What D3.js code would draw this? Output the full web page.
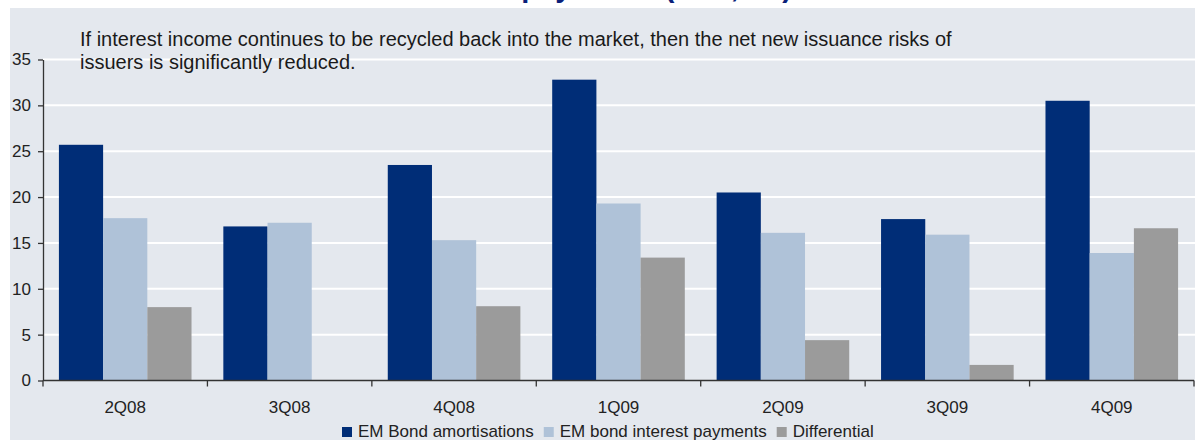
<!DOCTYPE html>
<html>
<head>
<meta charset="utf-8">
<script src="https://cdn.jsdelivr.net/npm/d3@7/dist/d3.min.js"></script>
<style>
  html, body { margin: 0; padding: 0; background: #ffffff; }
  svg { display: block; font-family: "Liberation Sans", Arial, sans-serif; }
</style>
</head>
<body>
<svg id="chart" width="1195" height="440"></svg>
<script>
// Quarterly EM bond flows, US$ bn
const quarters = ["2Q08", "3Q08", "4Q08", "1Q09", "2Q09", "3Q09", "4Q09"];
const amortisations = [25.7, 16.8, 23.5, 32.8, 20.5, 17.6, 30.5];
const interestPayments = [17.7, 17.2, 15.3, 19.3, 16.1, 15.9, 13.9];
const differential = [8.0, null, 8.1, 13.4, 4.4, 1.7, 16.6];
const seriesNames = ["EM Bond amortisations", "EM bond interest payments", "Differential"];
const seriesColors = ["#002d77", "#afc2d8", "#9b9b9b"];
const yTicks = [0, 5, 10, 15, 20, 25, 30, 35];

const svg = d3.select("#chart");
const W = 1195, H = 440;
const x0 = 43, x1 = 1194;
const yTop = 59.5, yBottom = 380.5;

// title strip and panel background
svg.append("rect").attr("x", 0).attr("y", 0).attr("width", W).attr("height", 8).attr("fill", "#ffffff");
svg.append("text").attr("x", 792).attr("y", -3).attr("text-anchor", "end")
  .attr("font-size", 29).attr("font-weight", "bold").attr("fill", "#0a1f7a")
  .text("EM bond payments (US$, bn)");
svg.append("rect").attr("x", 10).attr("y", 8).attr("width", W - 10).attr("height", H - 8)
  .attr("fill", "#e4e8ee");

const y = d3.scaleLinear().domain([0, 35]).range([yBottom, yTop]);
const xb = d3.scaleBand().domain(quarters).range([x0, x1]).paddingInner(0).paddingOuter(0);
const xs = d3.scaleBand().domain(d3.range(3)).range([0, xb.bandwidth()]).paddingInner(0).paddingOuter(0.36);

// gridlines
svg.append("g").selectAll("line").data(yTicks.filter(d => d > 0)).join("line")
  .attr("x1", x0).attr("x2", W).attr("y1", d => y(d)).attr("y2", d => y(d))
  .attr("stroke", "#ffffff").attr("stroke-width", 2);

// bars
const series = [amortisations, interestPayments, differential];
const groups = svg.append("g").selectAll("g").data(quarters).join("g")
  .attr("transform", d => `translate(${xb(d)},0)`);
groups.selectAll("rect")
  .data((q, i) => series.map((s, k) => ({ k, v: s[i] })).filter(d => d.v != null))
  .join("rect")
  .attr("x", d => xs(d.k)).attr("width", xs.bandwidth())
  .attr("y", d => y(d.v)).attr("height", d => y(0) - y(d.v))
  .attr("fill", d => seriesColors[d.k]);

// y axis
const yAxis = svg.append("g").attr("transform", `translate(${x0},0)`)
  .call(d3.axisLeft(y).tickValues(yTicks).tickSize(5).tickPadding(7).tickSizeOuter(0));
yAxis.select(".domain").attr("stroke", "#333").attr("stroke-width", 1.3);
yAxis.selectAll(".tick line").attr("stroke", "#333").attr("stroke-width", 1.3);
yAxis.selectAll("text").attr("font-size", 17).attr("fill", "#222")
  .attr("font-family", "Liberation Sans, Arial, sans-serif");

// x axis with ticks at band boundaries
const xAxisG = svg.append("g").attr("transform", `translate(0,${yBottom})`);
xAxisG.append("line").attr("x1", x0).attr("x2", x1).attr("stroke", "#333").attr("stroke-width", 1.3);
const boundaries = quarters.map(q => xb(q)).concat([x1]);
xAxisG.selectAll("line.tk").data(boundaries).join("line").attr("class", "tk")
  .attr("x1", d => d).attr("x2", d => d).attr("y1", 0).attr("y2", 6)
  .attr("stroke", "#333").attr("stroke-width", 1.3);
xAxisG.selectAll("text").data(quarters).join("text")
  .attr("x", d => xb(d) + xb.bandwidth() / 2).attr("y", 32.5)
  .attr("text-anchor", "middle").attr("font-size", 17).attr("fill", "#222")
  .text(d => d);

// annotation
const note = svg.append("text").attr("font-size", 20).attr("fill", "#1a1a1a");
note.append("tspan").attr("x", 80).attr("y", 45.5)
  .text("If interest income continues to be recycled back into the market, then the net new issuance risks of");
note.append("tspan").attr("x", 80).attr("y", 68.5)
  .text("issuers is significantly reduced.");

// legend
const legend = svg.append("g").attr("transform", "translate(342,437)");
let lx = 0;
seriesNames.forEach((name, k) => {
  const g = legend.append("g").attr("transform", `translate(${lx},0)`);
  g.append("rect").attr("x", 0).attr("y", -10).attr("width", 10).attr("height", 10).attr("fill", seriesColors[k]);
  const t = g.append("text").attr("x", 16).attr("y", 0).attr("font-size", 17).attr("fill", "#222").text(name);
  lx += 16 + t.node().getComputedTextLength() + 10;
});
</script>
</body>
</html>
